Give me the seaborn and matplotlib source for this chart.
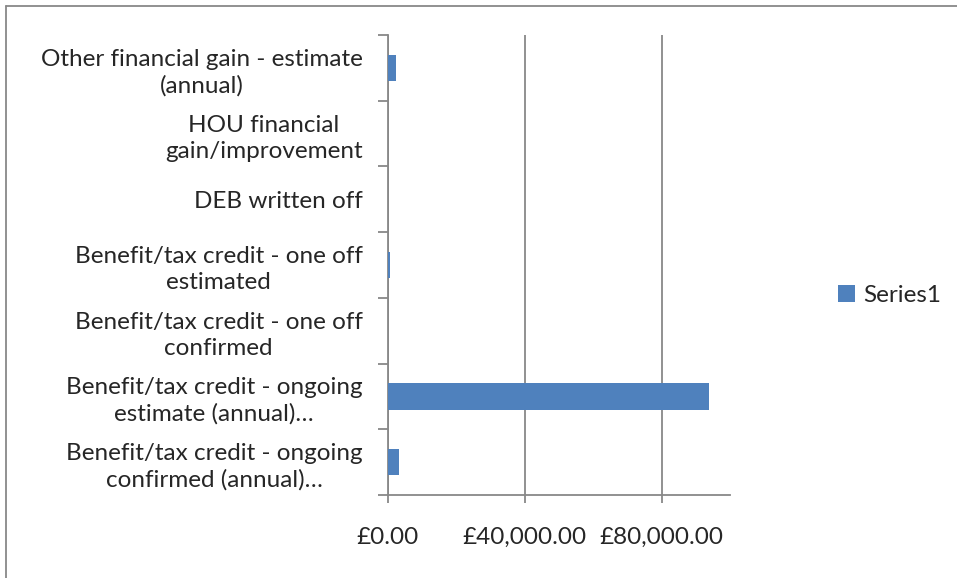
import matplotlib
matplotlib.use("Agg")
import matplotlib.pyplot as plt
import pandas as pd
import seaborn as sns
from matplotlib.lines import Line2D
from matplotlib.patches import Patch
from matplotlib.ticker import FuncFormatter

categories = [
    "Other financial gain - estimate\n(annual)",
    "HOU financial\ngain/improvement",
    "DEB written off",
    "Benefit/tax credit - one off\nestimated",
    "Benefit/tax credit - one off\nconfirmed",
    "Benefit/tax credit - ongoing\nestimate (annual)…",
    "Benefit/tax credit - ongoing\nconfirmed (annual)…",
]
values = [2600, 0, 0, 580, 0, 93800, 3400]
x_ticks = [0, 40000, 80000]
series_name = "Series1"

bar_color = "#4F81BD"
grid_color = "#888888"
font_size = 17.5

sns.set_style("white")
plt.rcParams["font.family"] = ["Lato", "DejaVu Sans"]

df = pd.DataFrame({"category": categories, "value": values})

fig = plt.figure(figsize=(9.57, 5.78), dpi=100)
ax = fig.add_axes([0.405, 0.1436, 0.358, 0.7958])

sns.barplot(data=df, x="value", y="category", orient="h", color=bar_color,
            saturation=1, width=0.4, linewidth=0, ax=ax, zorder=3)

ax.set_xlim(0, 100000)
ax.set_ylim(len(categories) - 0.5, -0.5)
ax.set_xticks(x_ticks)
ax.xaxis.set_major_formatter(FuncFormatter(lambda v, p: f"£{v:,.2f}"))
ax.grid(axis="x", color=grid_color, linewidth=1.3, zorder=0)
ax.set_axisbelow(True)
ax.set_xlabel("")
ax.set_ylabel("")

for side in ["top", "right"]:
    ax.spines[side].set_visible(False)
for side in ["left", "bottom"]:
    ax.spines[side].set_color(grid_color)
    ax.spines[side].set_linewidth(1.3)

ax.tick_params(axis="x", which="major", bottom=True, length=6, width=1.3,
               color=grid_color, direction="out", pad=17, labelsize=font_size)
ax.tick_params(axis="y", which="major", left=True, length=0, pad=18,
               labelsize=font_size)
ax.set_yticks([i - 0.5 for i in range(len(categories) + 1)], minor=True)
ax.tick_params(axis="y", which="minor", left=True, length=7, width=1.3,
               color=grid_color, direction="out")
for lbl in ax.get_yticklabels():
    lbl.set_multialignment("center")
    lbl.set_linespacing(1.3)

handles = [Patch(facecolor=bar_color, edgecolor="none", label=series_name)]
fig.legend(handles=handles, loc="center left", bbox_to_anchor=(0.853, 0.489),
           frameon=False, fontsize=font_size, handlelength=0.7, handleheight=0.7,
           handletextpad=0.35)

# chart area border (left and top edges visible)
fig.add_artist(Line2D([6 / 957, 6 / 957], [0, 1 - 6 / 578], transform=fig.transFigure,
                      color=grid_color, linewidth=1.3))
fig.add_artist(Line2D([6 / 957, 1], [1 - 6 / 578, 1 - 6 / 578], transform=fig.transFigure,
                      color=grid_color, linewidth=1.3))

fig.savefig("out.png", dpi=100)
